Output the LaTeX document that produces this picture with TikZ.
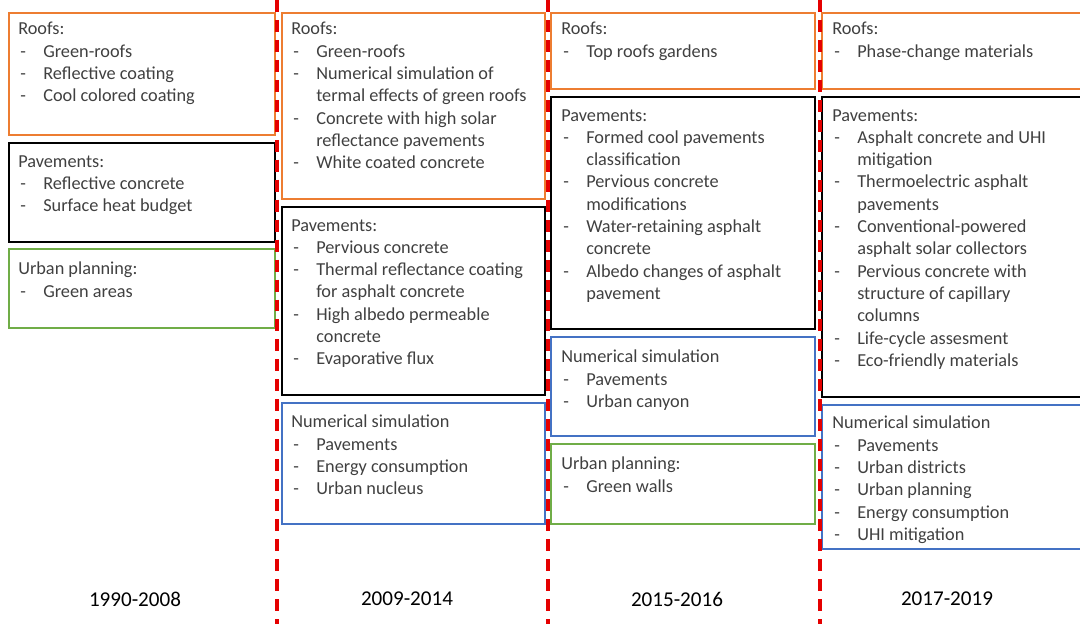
\documentclass[tikz,border=0pt]{standalone}
\usepackage{fontspec}
\setmainfont{Carlito}
\definecolor{roofc}{HTML}{ED7D31}
\definecolor{urbc}{HTML}{70AD47}
\definecolor{numc}{HTML}{4472C4}
\definecolor{txtc}{HTML}{404040}
\newcommand{\itm}{\makebox[0.625cm][l]{\hspace{0.05cm}-}}
\newcommand{\cnt}{\hspace*{0.625cm}}
\begin{document}
\begin{tikzpicture}[x=0.025cm, y=-0.025cm, line join=miter]
\tikzset{
  panel/.style={line width=1.8pt},
  roofbox/.style={panel, draw=roofc},
  pavebox/.style={panel, draw=black},
  numbox/.style={panel, draw=numc},
  urbbox/.style={panel, draw=urbc},
  txt/.style={anchor=north west, inner sep=0pt, align=left, text=txtc,
    font=\fontsize{13pt}{15.87pt}\selectfont},
  year/.style={font=\fontsize{15pt}{18pt}\selectfont, text=black},
  sep/.style={draw=red!90!black, line width=2.3pt, dash pattern=on 8.5pt off 5.7pt}
}
\useasboundingbox (0,0) rectangle (1080,624);
\clip (0,0) rectangle (1080,624);
% column 1990-2008
\draw[roofbox] (9,13) rectangle (275,135);
\draw[pavebox] (9,143) rectangle (275,242);
\draw[urbbox] (9,249) rectangle (275,328);
\node[txt] (roofA) at (18,22) {Roofs:\\ \itm Green-roofs\\ \itm Reflective coating\\ \itm Cool colored coating};
\node[txt] (paveA) at (18,155) {Pavements:\\ \itm Reflective concrete\\ \itm Surface heat budget};
\node[txt] (urbA) at (18,262) {Urban planning:\\ \itm Green areas};
% column 2009-2014
\draw[roofbox] (282,13) rectangle (545,199);
\draw[pavebox] (282,207) rectangle (545,395);
\draw[numbox] (282,403) rectangle (545,524);
\node[txt] (roofB) at (291,22) {Roofs:\\ \itm Green-roofs\\ \itm Numerical simulation of\\ \cnt termal effects of green roofs\\ \itm Concrete with high solar\\ \cnt reflectance pavements\\ \itm White coated concrete};
\node[txt] (paveB) at (291,219) {Pavements:\\ \itm Pervious concrete\\ \itm Thermal reflectance coating\\ \cnt for asphalt concrete\\ \itm High albedo permeable\\ \cnt concrete\\ \itm Evaporative flux};
\node[txt] (numB) at (291,415) {Numerical simulation\\ \itm Pavements\\ \itm Energy consumption\\ \itm Urban nucleus};
% column 2015-2016
\draw[roofbox] (551,13) rectangle (815,89);
\draw[pavebox] (551,97) rectangle (815,329);
\draw[numbox] (551,337) rectangle (815,436);
\draw[urbbox] (551,444) rectangle (815,524);
\node[txt] (roofC) at (561,22) {Roofs:\\ \itm Top roofs gardens};
\node[txt] (paveC) at (561,109) {Pavements:\\ \itm Formed cool pavements\\ \cnt classification\\ \itm Pervious concrete\\ \cnt modifications\\ \itm Water-retaining asphalt\\ \cnt concrete\\ \itm Albedo changes of asphalt\\ \cnt pavement};
\node[txt] (numC) at (561,350) {Numerical simulation\\ \itm Pavements\\ \itm Urban canyon};
\node[txt] (urbC) at (561,457) {Urban planning:\\ \itm Green walls};
% column 2017-2019
\draw[roofbox] (822,13) rectangle (1090,89);
\draw[pavebox] (822,97) rectangle (1090,397);
\draw[numbox] (822,405) rectangle (1090,549);
\node[txt] (roofD) at (832,22) {Roofs:\\ \itm Phase-change materials};
\node[txt] (paveD) at (832,109) {Pavements:\\ \itm Asphalt concrete and UHI\\ \cnt mitigation\\ \itm Thermoelectric asphalt\\ \cnt pavements\\ \itm Conventional-powered\\ \cnt asphalt solar collectors\\ \itm Pervious concrete with\\ \cnt structure of capillary\\ \cnt columns\\ \itm Life-cycle assesment\\ \itm Eco-friendly materials};
\node[txt] (numD) at (832,416) {Numerical simulation\\ \itm Pavements\\ \itm Urban districts\\ \itm Urban planning\\ \itm Energy consumption\\ \itm UHI mitigation};
% separators
\foreach \xs in {277,548,820}
  \draw[sep] (\xs,0) -- (\xs,624);
% periods
\node[year] (yA) at (135,599) {1990-2008};
\node[year] (yB) at (407,599) {2009-2014};
\node[year] (yC) at (677,599) {2015-2016};
\node[year] (yD) at (947,599) {2017-2019};
\end{tikzpicture}
\end{document}
